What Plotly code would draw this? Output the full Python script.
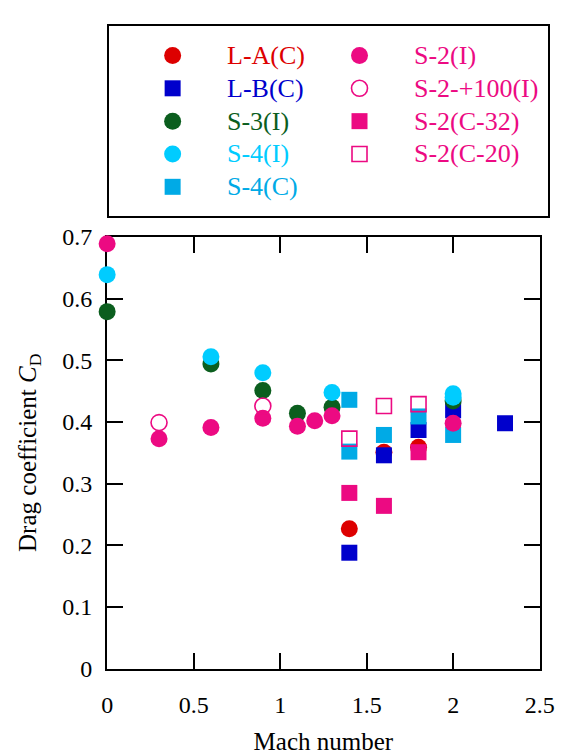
import plotly.graph_objects as go

W, H = 571, 756
FONT = "Liberation Serif"

# ---------------- data ----------------
series_names = ["L-A(C)", "L-B(C)", "S-3(I)", "S-4(I)", "S-4(C)",
                "S-2(I)", "S-2-+100(I)", "S-2(C-32)", "S-2(C-20)"]

la_mach = [1.4, 1.6, 1.8]
la_cd = [0.227, 0.351, 0.359]

lb_mach = [1.4, 1.6, 1.8, 2.0, 2.3]
lb_cd = [0.188, 0.346, 0.387, 0.419, 0.398]

s3i_mach = [0.0, 0.6, 0.9, 1.1, 1.3, 2.0]
s3i_cd = [0.579, 0.494, 0.451, 0.414, 0.424, 0.434]

s4i_mach = [0.0, 0.6, 0.9, 1.3, 2.0, 2.0]
s4i_cd = [0.639, 0.506, 0.480, 0.448, 0.446, 0.440]

s4c_mach = [1.4, 1.4, 1.6, 1.8, 2.0]
s4c_cd = [0.436, 0.352, 0.379, 0.409, 0.379]

s2i_mach = [0.0, 0.3, 0.6, 0.9, 1.1, 1.2, 1.3, 2.0]
s2i_cd = [0.689, 0.373, 0.391, 0.406, 0.393, 0.402, 0.410, 0.398]

s2p100_mach = [0.3, 0.9]
s2p100_cd = [0.399, 0.426]

s2c32_mach = [1.4, 1.6, 1.8]
s2c32_cd = [0.285, 0.264, 0.351]

s2c20_mach = [1.4, 1.6, 1.8]
s2c20_cd = [0.373, 0.426, 0.429]

x_tick_vals = [0, 0.5, 1, 1.5, 2, 2.5]
x_tick_text = ["0", "0.5", "1", "1.5", "2", "2.5"]
y_tick_vals = [0, 0.1, 0.2, 0.3, 0.4, 0.5, 0.6, 0.7]
y_tick_text = ["0", "0.1", "0.2", "0.3", "0.4", "0.5", "0.6", "0.7"]

# ---------------- styles ----------------
RED = "#dd0000"
BLUE = "#0000cc"
GREEN = "#0b5e1e"
CYAN = "#00ccff"
CYAN2 = "#00aae6"
PINK = "#ec0a82"

series_data = [
    (la_mach, la_cd), (lb_mach, lb_cd), (s3i_mach, s3i_cd),
    (s4i_mach, s4i_cd), (s4c_mach, s4c_cd), (s2i_mach, s2i_cd),
    (s2p100_mach, s2p100_cd), (s2c32_mach, s2c32_cd), (s2c20_mach, s2c20_cd),
]
series_colors = [RED, BLUE, GREEN, CYAN, CYAN2, PINK, PINK, PINK, PINK]
series_symbols = ["circle", "square", "circle", "circle", "square",
                  "circle", "circle-open", "square", "square-open"]
series_sizes = [17, 16, 17, 17, 16, 17, 16, 16, 15]

# legend grid slot of each series (column, row)
legend_col = [0, 0, 0, 0, 0, 1, 1, 1, 1]
legend_row = [0, 1, 2, 3, 4, 0, 1, 2, 3]

# ---------------- geometry (pixels) ----------------
PX_L, PX_R, PX_T, PX_B = 105, 554, 232, 679
LG_L, LG_R, LG_T, LG_B = 107, 563, 13, 210
col_marker_px = [173, 367]
col_text_px = [227, 422]
row_px = [44, 78, 112, 146, 180]

fig = go.Figure()

for (xs, ys), name, col, sym, sz in zip(series_data, series_names,
                                       series_colors, series_symbols, series_sizes):
    open_marker = sym.endswith("open")
    fig.add_trace(go.Scatter(
        x=xs, y=ys, mode="markers", name=name, showlegend=False,
        cliponaxis=False,
        marker=dict(symbol=sym, size=sz, color=col,
                    line=dict(color=col, width=1.6 if open_marker else 0)),
        xaxis="x", yaxis="y",
    ))

# legend drawn in its own boxed axes
lg_w = LG_R - LG_L
lg_h = LG_B - LG_T
annotations = []
for i, (name, col, sym, sz) in enumerate(zip(series_names, series_colors,
                                             series_symbols, series_sizes)):
    c, r = legend_col[i], legend_row[i]
    mx = (col_marker_px[c] - LG_L) / lg_w
    my = (LG_B - row_px[r]) / lg_h
    tx = (col_text_px[c] - LG_L) / lg_w
    open_marker = sym.endswith("open")
    fig.add_trace(go.Scatter(
        x=[mx], y=[my], mode="markers", showlegend=False, cliponaxis=False,
        marker=dict(symbol=sym, size=sz, color=col,
                    line=dict(color=col, width=1.6 if open_marker else 0)),
        xaxis="x2", yaxis="y2",
    ))
    annotations.append(dict(
        x=tx, y=my, xref="x2", yref="y2", text=name, showarrow=False,
        xanchor="left", yanchor="middle",
        font=dict(family=FONT, size=26, color=col),
    ))

axis_common = dict(
    showline=True, linewidth=2, linecolor="black", mirror="ticks",
    ticks="inside", ticklen=16, tickwidth=2, tickcolor="black",
    showgrid=False, zeroline=False, layer="below traces",
    tickfont=dict(family=FONT, size=24, color="black"),
)

fig.update_layout(
    width=W, height=H, autosize=False,
    margin=dict(l=0, r=0, t=0, b=0),
    paper_bgcolor="white", plot_bgcolor="white",
    showlegend=False,
    xaxis=dict(
        domain=[PX_L / W, PX_R / W], range=[0, 2.5],
        tickvals=x_tick_vals, ticktext=x_tick_text, ticklabelstandoff=14,
        title=dict(text="Mach number", standoff=15,
                   font=dict(family=FONT, size=25, color="black")),
        anchor="y", **axis_common,
    ),
    yaxis=dict(
        domain=[(H - PX_B) / H, (H - PX_T) / H], range=[0, 0.7],
        tickvals=y_tick_vals, ticktext=y_tick_text, ticklabelstandoff=8,
        title=dict(text="Drag coefficient <i>C</i><sub>D</sub>", standoff=19,
                   font=dict(family=FONT, size=25, color="black")),
        anchor="x", **axis_common,
    ),
    xaxis2=dict(
        domain=[LG_L / W, LG_R / W], range=[0, 1], anchor="y2",
        showline=True, mirror=True, linewidth=2, linecolor="black",
        showticklabels=False, ticks="", showgrid=False, zeroline=False,
        fixedrange=True,
    ),
    yaxis2=dict(
        domain=[(H - LG_B) / H, (H - LG_T) / H], range=[0, 1], anchor="x2",
        showline=True, mirror=True, linewidth=2, linecolor="black",
        showticklabels=False, ticks="", showgrid=False, zeroline=False,
        fixedrange=True,
    ),
    annotations=annotations,
    font=dict(family=FONT, color="black"),
)

fig.write_html("out.html")
